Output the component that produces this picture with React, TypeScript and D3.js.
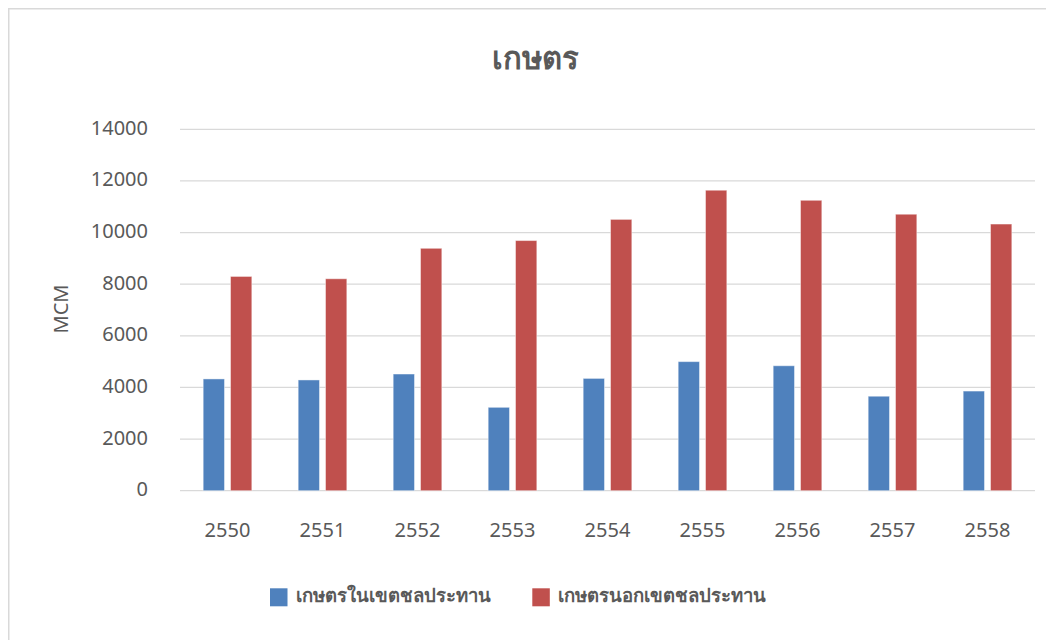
import React from "react";
import * as d3 from "d3";

const years = ["2550", "2551", "2552", "2553", "2554", "2555", "2556", "2557", "2558"];
const inIrrigation = [4330, 4290, 4520, 3230, 4350, 5000, 4840, 3660, 3860];
const outIrrigation = [8300, 8210, 9390, 9690, 10510, 11640, 11250, 10710, 10330];
const seriesNames = ["เกษตรในเขตชลประทาน", "เกษตรนอกเขตชลประทาน"];
const seriesColors = ["#4F81BD", "#C0504D"];
const yTicks = [0, 2000, 4000, 6000, 8000, 10000, 12000, 14000];
const title = "เกษตร";
const yTitle = "MCM";

const W = 1046;
const H = 632;
const left = 172;
const right = 1027;
const top = 121.3;
const bottom = 482.7;
const textColor = "#595959";
const font = "'Noto Sans', 'DejaVu Sans', sans-serif";

export default function App() {
  const x0 = d3.scaleBand<string>().domain(years).range([left, right]).paddingInner(0.488).paddingOuter(0.244);
  const x1 = d3.scaleBand<string>().domain(["a", "b"]).range([0, x0.bandwidth()]).paddingInner(0.22).paddingOuter(0);
  const y = d3.scaleLinear().domain([0, 14000]).range([bottom, top]);
  const series = [inIrrigation, outIrrigation];

  return (
    <svg width={W} height={H} style={{ display: "block" }} fontFamily={font}>
      <rect x={0} y={0} width={W} height={H} fill="#fff" />
      <line x1={0} y1={0.75} x2={W} y2={0.75} stroke="#d9d9d9" strokeWidth={1.5} />
      <line x1={0.75} y1={0} x2={0.75} y2={H} stroke="#d9d9d9" strokeWidth={1.5} />
      <text x={527} y={61} textAnchor="middle" fontSize={31} fontWeight="bold" fill={textColor}>
        {title}
      </text>
      {yTicks.map((t) => (
        <g key={t}>
          <line x1={left} x2={right} y1={y(t)} y2={y(t)} stroke="#d9d9d9" strokeWidth={1.3} />
          <text x={140} y={y(t) - 2} textAnchor="end" dominantBaseline="central" fontSize={20} fill={textColor}>
            {t}
          </text>
        </g>
      ))}
      <text
        transform={`translate(52.7,301) rotate(-90)`}
        textAnchor="middle"
        dominantBaseline="central"
        fontSize={20}
        fill={textColor}
      >
        {yTitle}
      </text>
      {years.map((yr, i) => (
        <g key={yr}>
          {series.map((s, si) => {
            const bx = (x0(yr) ?? 0) + (x1(si === 0 ? "a" : "b") ?? 0);
            return (
              <rect
                key={si}
                x={bx}
                y={y(s[i])}
                width={x1.bandwidth()}
                height={y(0) - y(s[i])}
                fill={seriesColors[si]}
                stroke="#ffffff"
                strokeOpacity={0.45}
                strokeWidth={1}
              />
            );
          })}
          <text
            x={(x0(yr) ?? 0) + x0.bandwidth() / 2}
            y={521}
            textAnchor="middle"
            dominantBaseline="central"
            fontSize={20}
            fill={textColor}
          >
            {yr}
          </text>
        </g>
      ))}
      {seriesNames.map((n, i) => {
        const lx = i === 0 ? 262 : 524.3;
        return (
          <g key={n}>
            <rect x={lx} y={580.3} width={17.5} height={18} fill={seriesColors[i]} />
            <text x={lx + 26} y={594} fontSize={18.5} fontWeight="bold" fill={textColor}>
              {n}
            </text>
          </g>
        );
      })}
    </svg>
  );
}
